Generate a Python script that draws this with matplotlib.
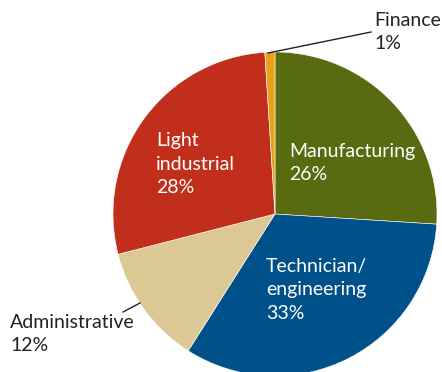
import matplotlib
matplotlib.use("Agg")
import matplotlib.pyplot as plt

# share of placements by sector, clockwise from the top
sectors = ["Manufacturing", "Technician/\nengineering", "Administrative", "Light\nindustrial", "Finance"]
shares = [26, 33, 12, 28, 1]
colors = ["#586b10", "#00508a", "#dcc894", "#c12e1c", "#e9a11a"]

plt.rcParams['font.family'] = ['Lato', 'DejaVu Sans']

fig = plt.figure(figsize=(4.42, 3.72), dpi=100)
ax = fig.add_axes([0, 0, 1, 1])

# pie in pixel coordinates (y up), slightly cut at the bottom edge
ax.pie(shares, colors=colors, startangle=90, counterclock=False,
       center=(275, 158), radius=162, frame=True,
       wedgeprops=dict(linewidth=0.4, edgecolor="white"))
ax.set_xlim(0, 442)
ax.set_ylim(0, 372)
ax.set_aspect("equal")
ax.axis("off")

fs = 14
ls = 1.45
ax.text(156, 208, "Light\nindustrial\n%d%%" % shares[3], color="white", fontsize=fs,
        ha="left", va="center", linespacing=ls)
ax.text(289, 209, "Manufacturing\n%d%%" % shares[0], color="white", fontsize=fs,
        ha="left", va="center", linespacing=ls)
ax.text(266, 82, "Technician/\nengineering\n%d%%" % shares[1], color="white", fontsize=fs,
        ha="left", va="center", linespacing=ls)
ax.text(10, 38, "Administrative\n%d%%" % shares[2], color="#222222", fontsize=fs,
        ha="left", va="center", linespacing=ls)
ax.text(374, 340, "Finance\n%d%%" % shares[4], color="#222222", fontsize=fs,
        ha="left", va="center", linespacing=ls)

# leader lines for the outside labels
ax.plot([268, 371], [319, 340], color="#222222", linewidth=1)
ax.plot([123, 140], [60, 69], color="#222222", linewidth=1)

fig.savefig("out.png", dpi=100)
